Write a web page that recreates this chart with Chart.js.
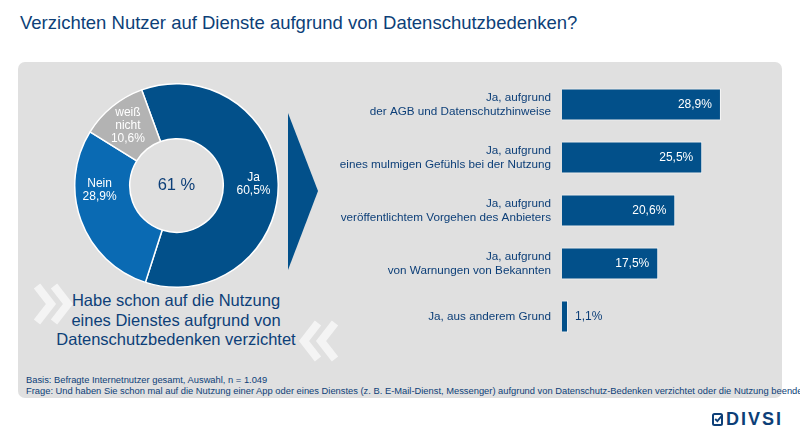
<!DOCTYPE html>
<html lang="de">
<head>
<meta charset="utf-8">
<title>Verzichten Nutzer auf Dienste aufgrund von Datenschutzbedenken?</title>
<script src="https://cdn.jsdelivr.net/npm/chart.js@4/dist/chart.umd.min.js"></script>
<style>
  body { margin: 0; width: 800px; height: 440px; background: #fff; position: relative; overflow: hidden;
         font-family: "Liberation Sans", Arial, sans-serif; color: #0d3f78; }
  .abs { position: absolute; }
  #title { left: 20px; top: 12px; font-size: 18.5px; white-space: nowrap; }
  #panel { left: 18px; top: 62px; width: 764px; height: 336px; background: #e0e0e0; border-radius: 7px; }
  #center { left: 126px; width: 101px; top: 175px; text-align: center; font-size: 16.5px; }
  #subtitle { left: 40px; width: 272px; top: 291px; text-align: center; font-size: 16.5px; line-height: 19.5px; }
  #notes { left: 26px; top: 375px; font-family: "Liberation Sans Narrow", "Arial Narrow", sans-serif;
           font-size: 9.35px; line-height: 10.5px; white-space: nowrap; }
  #logo { left: 712px; top: 409px; font-size: 18px; font-weight: bold; letter-spacing: 2px; white-space: nowrap; }
</style>
</head>
<body>
<div id="title" class="abs">Verzichten Nutzer auf Dienste aufgrund von Datenschutzbedenken?</div>
<div id="panel" class="abs"></div>

<svg class="abs" style="left:0;top:0" width="800" height="440">
  <polygon points="288,113 318,191 288,270" fill="#02508a"/>
  <g fill="none" stroke="#f4f4f4" stroke-width="8" stroke-linejoin="miter">
    <polyline points="37,286 51,304 37,322"/>
    <polyline points="54,286 68,304 54,322"/>
    <polyline points="318,323 304,341 318,359"/>
    <polyline points="335,323 321,341 335,359"/>
  </g>
</svg>

<canvas id="donut" class="abs" style="left:74px;top:83px" width="205" height="205"></canvas>
<div id="center" class="abs"></div>
<div id="subtitle" class="abs">Habe schon auf die Nutzung<br>eines Dienstes aufgrund von<br>Datenschutzbedenken verzichtet</div>

<canvas id="bars" class="abs" style="left:300px;top:78px" width="482" height="265"></canvas>

<div id="notes" class="abs">Basis: Befragte Internetnutzer gesamt, Auswahl, n = 1.049<br>Frage: Und haben Sie schon mal auf die Nutzung einer App oder eines Dienstes (z. B. E-Mail-Dienst, Messenger) aufgrund von Datenschutz-Bedenken verzichtet oder die Nutzung beendet?</div>

<div id="logo" class="abs"><svg width="11" height="13" viewBox="0 0 11 13" style="vertical-align:-1px;margin-right:3px">
  <rect x="1" y="1" width="9" height="11" rx="1.5" fill="none" stroke="#0d3f78" stroke-width="2"/>
  <polyline points="3.2,6 5.4,8.2 10,2.5" fill="none" stroke="#0d3f78" stroke-width="1.9"/></svg>DIVSI</div>

<script>
const navy = "#0d3f78";

// donut: answered "Ja / Nein / weiß nicht"
const answerLabels = [["Ja"], ["Nein"], ["weiß", "nicht"]];
const answerValues = [60.5, 28.9, 10.6];
const answerColors = ["#02508a", "#0a6ab3", "#b3b3b3"];

// bars: reasons
const reasonLabels = [
  ["Ja, aufgrund", "der AGB und Datenschutzhinweise"],
  ["Ja, aufgrund", "eines mulmigen Gefühls bei der Nutzung"],
  ["Ja, aufgrund", "veröffentlichtem Vorgehen des Anbieters"],
  ["Ja, aufgrund", "von Warnungen von Bekannten"],
  "Ja, aus anderem Grund"
];
const reasonValues = [28.9, 25.5, 20.6, 17.5, 1.1];

const fmt = v => v.toFixed(1).replace(".", ",") + "%";
const FONT = '"Liberation Sans", Arial, sans-serif';

document.getElementById("center").textContent = Math.round(answerValues[0]) + " %";

const donutLabelsPlugin = {
  id: "donutLabels",
  afterDatasetsDraw(chart, args, opts) {
    const ctx = chart.ctx;
    const meta = chart.getDatasetMeta(0);
    ctx.save();
    ctx.font = "12px " + FONT;
    ctx.fillStyle = "#fff";
    ctx.textAlign = "center";
    ctx.textBaseline = "middle";
    meta.data.forEach((arc, i) => {
      const p = arc.getProps(["x", "y", "startAngle", "endAngle", "innerRadius", "outerRadius"]);
      let ang = (p.startAngle + p.endAngle) / 2;
      if (opts.angles && opts.angles[i] != null) ang = opts.angles[i];
      const r = p.innerRadius + (p.outerRadius - p.innerRadius) * 0.55;
      const lines = [...answerLabels[i], fmt(answerValues[i])];
      const cx = p.x + Math.cos(ang) * r;
      const cy = p.y + Math.sin(ang) * r;
      const lh = 13.2;
      lines.forEach((t, k) => ctx.fillText(t, cx, cy + (k - (lines.length - 1) / 2) * lh));
    });
    ctx.restore();
  }
};

new Chart(document.getElementById("donut"), {
  type: "doughnut",
  data: {
    labels: answerLabels.map(l => l.join(" ")),
    datasets: [{
      data: answerValues,
      backgroundColor: answerColors,
      borderColor: "#fff",
      borderWidth: 1.5
    }]
  },
  options: {
    responsive: false,
    animation: false,
    rotation: -20,
    cutout: "46%",
    plugins: {
      legend: { display: false },
      tooltip: { enabled: false },
      donutLabels: { angles: [null, Math.PI - 0.06, null] }
    }
  },
  plugins: [donutLabelsPlugin]
});

const barValuesPlugin = {
  id: "barValues",
  afterDatasetsDraw(chart) {
    const ctx = chart.ctx;
    const meta = chart.getDatasetMeta(0);
    ctx.save();
    ctx.font = "12px " + FONT;
    ctx.textBaseline = "middle";
    meta.data.forEach((bar, i) => {
      const txt = fmt(reasonValues[i]);
      const w = ctx.measureText(txt).width;
      if (bar.x - bar.base > w + 18) {
        ctx.fillStyle = "#fff";
        ctx.textAlign = "right";
        ctx.fillText(txt, bar.x - 9, bar.y);
      } else {
        ctx.fillStyle = navy;
        ctx.textAlign = "left";
        ctx.fillText(txt, bar.x + 7, bar.y);
      }
    });
    ctx.restore();
  }
};

new Chart(document.getElementById("bars"), {
  type: "bar",
  data: {
    labels: reasonLabels,
    datasets: [{
      data: reasonValues,
      backgroundColor: "#02508a",
      borderColor: "#f7f7f7",
      borderWidth: 1,
      barPercentage: 0.6,
      categoryPercentage: 1
    }]
  },
  options: {
    indexAxis: "y",
    responsive: false,
    animation: false,
    layout: { padding: 0 },
    scales: {
      x: { display: false, min: 0, max: 40 },
      y: {
        grid: { display: false, drawTicks: false },
        border: { display: false },
        ticks: { color: navy, padding: 11, font: { family: FONT, size: 11.7, lineHeight: 1.22 } },
        afterFit(scale) {
          scale.width = 262;
          scale.paddingTop = 0;
          scale.paddingBottom = 0;
        }
      }
    },
    plugins: { legend: { display: false }, tooltip: { enabled: false } }
  },
  plugins: [barValuesPlugin]
});
</script>
</body>
</html>
